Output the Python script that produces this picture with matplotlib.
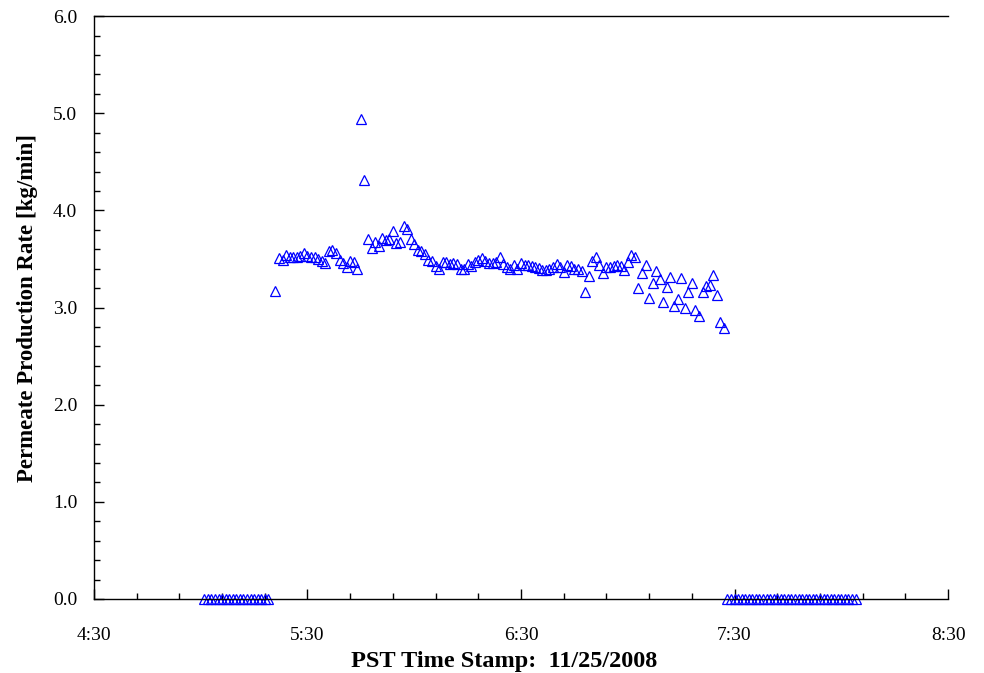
"""Permeate production rate vs time stamp, 11/25/2008."""
import matplotlib

matplotlib.use("Agg")
import matplotlib.pyplot as plt
import numpy as np
from matplotlib.ticker import FuncFormatter, MultipleLocator

plt.rcParams["font.family"] = ["Liberation Serif", "DejaVu Serif"]

# time in minutes after midnight, sampled once per minute
ZERO_START_1, ZERO_COUNT_1 = 301, 19   # 5:01 .. 5:19
RUN_START = 321                        # 5:21
ZERO_START_2, ZERO_COUNT_2 = 448, 37   # 7:28 .. 8:04

rate_run = [
    3.17, 3.51, 3.49, 3.54, 3.52, 3.52, 3.52, 3.53, 3.56, 3.53,
    3.52, 3.52, 3.50, 3.48, 3.46, 3.58, 3.59, 3.56, 3.49, 3.46,
    3.42, 3.48, 3.47, 3.40, 4.94, 4.31, 3.71, 3.61, 3.68, 3.63,
    3.72, 3.70, 3.71, 3.79, 3.66, 3.67, 3.84, 3.81, 3.71, 3.65,
    3.59, 3.58, 3.55, 3.49, 3.48, 3.43, 3.40, 3.47, 3.47, 3.45,
    3.46, 3.45, 3.40, 3.40, 3.45, 3.43, 3.47, 3.49, 3.51, 3.48,
    3.46, 3.46, 3.47, 3.52, 3.45, 3.42, 3.40, 3.44, 3.40, 3.46,
    3.44, 3.44, 3.43, 3.42, 3.41, 3.39, 3.39, 3.40, 3.42, 3.45,
    3.42, 3.37, 3.44, 3.43, 3.40, 3.40, 3.38, 3.16, 3.32, 3.48,
    3.52, 3.44, 3.36, 3.42, 3.42, 3.43, 3.44, 3.43, 3.39, 3.47,
    3.54, 3.52, 3.20, 3.36, 3.44, 3.10, 3.25, 3.38, 3.29, 3.06,
    3.21, 3.31, 3.02, 3.09, 3.30, 3.00, 3.16, 3.25, 2.98, 2.91,
    3.16, 3.22, 3.23, 3.34, 3.13, 2.85, 2.79,
]

t = np.concatenate([
    np.arange(ZERO_START_1, ZERO_START_1 + ZERO_COUNT_1),
    np.arange(RUN_START, RUN_START + len(rate_run)),
    np.arange(ZERO_START_2, ZERO_START_2 + ZERO_COUNT_2),
])
rate = np.concatenate([np.zeros(ZERO_COUNT_1), rate_run, np.zeros(ZERO_COUNT_2)])


def hhmm(x, pos=None):
    x = int(round(x))
    return f"{x // 60}:{x % 60:02d}"


fig = plt.figure(figsize=(9.84, 6.73), dpi=100)
ax = fig.add_axes([0.0955, 0.110, 0.868, 0.866])

ax.plot(t, rate, linestyle="none", marker="^", markersize=6.5,
        markerfacecolor="none", markeredgecolor="#0000ff", markeredgewidth=0.9,
        clip_on=False)

ax.set_xlim(270, 510)
ax.set_ylim(0, 6)
ax.xaxis.set_major_locator(MultipleLocator(60, offset=30))
ax.xaxis.set_minor_locator(MultipleLocator(12, offset=6))
ax.xaxis.set_major_formatter(FuncFormatter(hhmm))
ax.yaxis.set_major_locator(MultipleLocator(1))
ax.yaxis.set_minor_locator(MultipleLocator(0.2))
ax.yaxis.set_major_formatter(FuncFormatter(lambda v, p: f"{v:.1f}"))

ax.spines["right"].set_visible(False)
for s in ("left", "bottom", "top"):
    ax.spines[s].set_linewidth(1.0)

ax.tick_params(which="major", direction="in", length=7, width=1, labelsize=14)
ax.tick_params(which="minor", direction="in", length=4, width=1)
ax.tick_params(axis="x", which="major", pad=20)
ax.tick_params(axis="y", which="major", pad=12)

ax.set_xlabel("PST Time Stamp:  11/25/2008", fontsize=17.5, fontweight="bold")
ax.xaxis.set_label_coords(0.48, -0.09)
ax.set_ylabel("Permeate Production Rate [kg/min]", fontsize=16.5, fontweight="bold", labelpad=11)

fig.savefig("out.png", dpi=100)
